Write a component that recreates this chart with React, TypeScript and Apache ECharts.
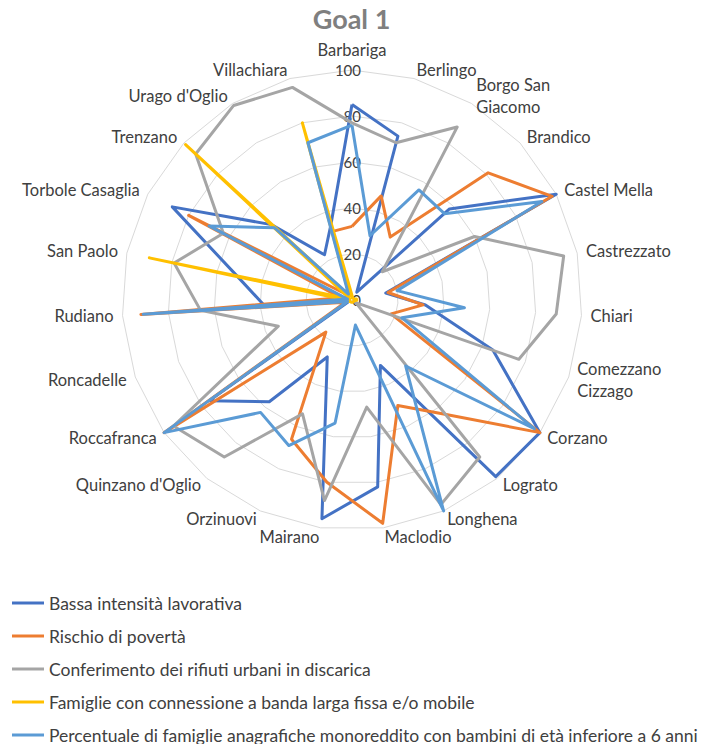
import React, { useEffect, useRef } from "react";
import * as echarts from "echarts";

const categories = [
  "Barbariga", "Berlingo", "Borgo San\nGiacomo", "Brandico", "Castel Mella", "Castrezzato",
  "Chiari", "Comezzano\nCizzago", "Corzano", "Lograto", "Longhena", "Maclodio", "Mairano",
  "Orzinuovi", "Quinzano d'Oglio", "Roccafranca", "Roncadelle", "Rudiano", "San Paolo",
  "Torbole Casaglia", "Trenzano", "Urago d'Oglio", "Villachiara",
];

const seriesNames = [
  "Bassa intensità lavorativa",
  "Rischio di povertà",
  "Conferimento dei rifiuti urbani in discarica",
  "Famiglie con connessione a banda larga fissa e/o mobile",
  "Percentuale di famiglie anagrafiche monoreddito con bambini di età inferiore a 6 anni",
];

const bassaIntensita = [85, 74, 4, 58, 100, 15, 32, 65, 100, 99, 31, 82, 96, 27, 57, 76, 1, 38, 51, 88, 48, 23, 34];
const rischioPoverta = [32, 47, 32, 81, 98, 16, 31, 18, 100, 64, 50, 98, 80, 66, 18, 100, 3, 92, 5, 80, 4, 2, 31];
const conferimentoDiscarica = [77, 71, 88, 18, 60, 94, 89, 77, 2, 88, 97, 47, 88, 54, 88, 95, 34, 66, 79, 63, 93, 99, 96];
const bandaLarga = [2, 1, 1, 1, 1, 2, 2, 1, 1, 1, 1, 1, 1, 1, 1, 1, 2, 2, 90, 1, 99, 2, 80];
const monoreddito = [76, 29, 56, 55, 93, 20, 49, 23, 97, 37, 100, 11, 54, 69, 63, 100, 2, 91, 2, 70, 46, 3, 71];

const tickValues = [0, 20, 40, 60, 80, 100];

const colors = ["#4472C4", "#ED7D31", "#A5A5A5", "#FFC000", "#5B9BD5"];
const FONT = "Lato, 'Noto Sans', sans-serif";

// ECharts radar runs counter-clockwise; reorder so the categories run clockwise like the original.
const clockwise = <T,>(arr: T[]): T[] => [arr[0], ...arr.slice(1).reverse()];

export default function App() {
  const ref = useRef<HTMLDivElement>(null);
  useEffect(() => {
    if (!ref.current) return;
    const chart = echarts.init(ref.current, undefined, { renderer: "svg" });
    const allSeries = [bassaIntensita, rischioPoverta, conferimentoDiscarica, bandaLarga, monoreddito];
    chart.setOption({
      animation: false,
      backgroundColor: "#ffffff",
      title: {
        text: "Goal 1",
        left: "center",
        top: 0,
        textStyle: { color: "#7f7f7f", fontSize: 27, fontWeight: "bold", fontFamily: FONT },
      },
      legend: {
        orient: "vertical",
        left: 12,
        top: 594,
        height: 300,
        padding: 0,
        icon: "rect",
        itemWidth: 32,
        itemHeight: 3,
        itemGap: 15,
        data: seriesNames,
        textStyle: { color: "#404040", fontSize: 17.5, fontFamily: FONT, lineHeight: 18 },
        selectedMode: false,
      },
      radar: {
        center: [352, 300],
        radius: 230,
        startAngle: 90,
        shape: "polygon",
        splitNumber: tickValues.length - 1,
        nameGap: 9,
        axisName: { color: "#404040", fontSize: 16.5, fontFamily: FONT, lineHeight: 22 },
        splitLine: { lineStyle: { color: "#d9d9d9", width: 1 } },
        splitArea: { show: false },
        axisLine: { show: false },
        axisTick: { show: false },
        axisLabel: {
          show: true,
          color: "#404040",
          fontSize: 15,
          fontFamily: FONT,
          margin: -9,
          align: "right",
          showMinLabel: true,
          showMaxLabel: true,
        },
        indicator: clockwise(categories).map((name, i) => ({
          name,
          min: tickValues[0],
          max: tickValues[tickValues.length - 1],
          axisLabel: { show: i === 0 },
        })),
      },
      series: seriesNames.map((name, i) => ({
        name,
        type: "radar",
        symbol: "none",
        lineStyle: { color: colors[i], width: 3 },
        itemStyle: { color: colors[i] },
        data: [{ value: clockwise(allSeries[i]), name }],
      })),
    });
    return () => chart.dispose();
  }, []);
  return (
    <div
      ref={ref}
      style={{ position: "absolute", left: 0, top: 0, width: 703, height: 744 }}
    />
  );
}
